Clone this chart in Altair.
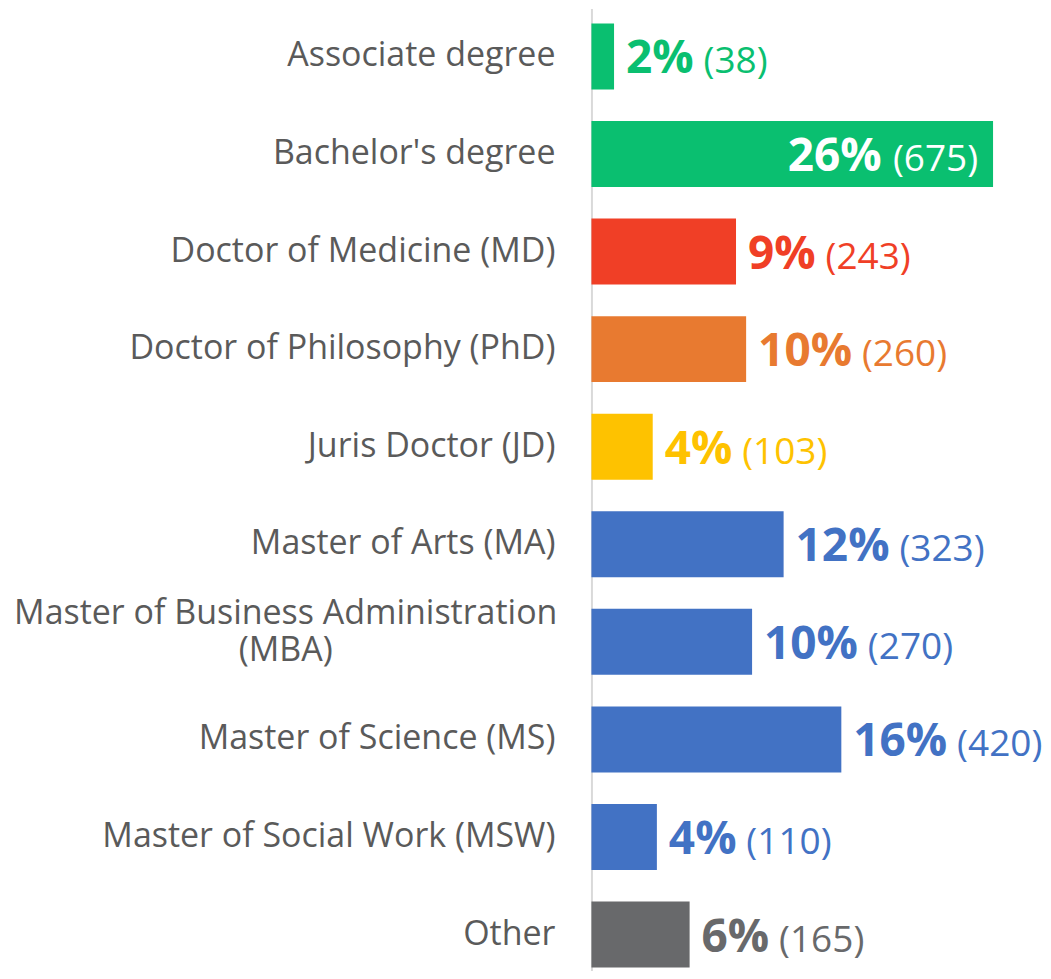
import altair as alt
import pandas as pd

categories = [
    "Associate degree",
    "Bachelor's degree",
    "Doctor of Medicine (MD)",
    "Doctor of Philosophy (PhD)",
    "Juris Doctor (JD)",
    "Master of Arts (MA)",
    "Master of Business Administration (MBA)",
    "Master of Science (MS)",
    "Master of Social Work (MSW)",
    "Other",
]
display_labels = [
    "Associate degree",
    "Bachelor's degree",
    "Doctor of Medicine (MD)",
    "Doctor of Philosophy (PhD)",
    "Juris Doctor (JD)",
    "Master of Arts (MA)",
    "Master of Business Administration\n(MBA)",
    "Master of Science (MS)",
    "Master of Social Work (MSW)",
    "Other",
]
counts = [38, 675, 243, 260, 103, 323, 270, 420, 110, 165]
percents = [2, 26, 9, 10, 4, 12, 10, 16, 4, 6]
colors = ["#0ABF70", "#0ABF70", "#F03F26", "#E87A30", "#FEC200",
          "#4272C4", "#4272C4", "#4272C4", "#4272C4", "#68696B"]

df = pd.DataFrame({
    "category": categories,
    "label": display_labels,
    "count": counts,
    "pct": percents,
})
df["pct_text"] = [f"{p}%" for p in percents]
df["count_text"] = [f"({c})" for c in counts]
df["inside"] = df["count"] == df["count"].max()
df["multiline"] = df["label"].str.contains("\n")

FONT = "Open Sans"
PCT_FS = 46
CNT_FS = 37
LAB_FS = 34

y = alt.Y("category:N", sort=categories,
          scale=alt.Scale(paddingInner=0.324, paddingOuter=0.0921, align=0.833),
          axis=alt.Axis(labels=False, ticks=False, title=None, grid=False,
                        domainColor="#D9D9D9", domainWidth=2))
x = alt.X("count:Q", scale=alt.Scale(domain=[0, 675], nice=False, zero=True), axis=None)
color = alt.Color("category:N", scale=alt.Scale(domain=categories, range=colors), legend=None)

base = alt.Chart(df).encode(y=y)

bars = base.mark_bar().encode(x=x, color=color)

pct_w = f"((length(datum.pct_text)-1)*{0.572*PCT_FS} + {0.897*PCT_FS})"
cnt_w = f"((length(datum.count_text)-2)*{0.572*CNT_FS} + {2*0.296*CNT_FS})"

pct_out = base.transform_filter("!datum.inside").mark_text(
    align="left", baseline="alphabetic", dy=17, dx=12,
    font=FONT, fontSize=PCT_FS, fontWeight="bold"
).encode(x=x, text="pct_text:N", color=color)

cnt_out = base.transform_filter("!datum.inside").mark_text(
    align="left", baseline="alphabetic", dy=17,
    dx=alt.expr(f"22 + {pct_w}"),
    font=FONT, fontSize=CNT_FS
).encode(x=x, text="count_text:N", color=color)

cnt_in = base.transform_filter("datum.inside").mark_text(
    align="right", baseline="alphabetic", dy=17, dx=-15,
    font=FONT, fontSize=CNT_FS, color="white"
).encode(x=x, text="count_text:N")

pct_in = base.transform_filter("datum.inside").mark_text(
    align="right", baseline="alphabetic", dy=17,
    dx=alt.expr(f"-26 - {cnt_w}"),
    font=FONT, fontSize=PCT_FS, fontWeight="bold", color="white"
).encode(x=x, text="pct_text:N")

labels_single = base.transform_filter("!datum.multiline").mark_text(
    align="right", baseline="middle", font=FONT, fontSize=LAB_FS, color="#5A5A5A"
).encode(x=alt.value(-36), text="label:N")

labels_multi = base.transform_filter("datum.multiline").mark_text(
    align="center", baseline="middle", font=FONT, fontSize=LAB_FS, color="#5A5A5A",
    lineBreak="\n", lineHeight=37, dy=-28
).encode(x=alt.value(-306), text="label:N")

chart = alt.layer(bars, pct_out, cnt_out, cnt_in, pct_in, labels_single, labels_multi).properties(
    width=402, height=963,
    padding={"left": 5, "top": 0, "right": 0, "bottom": 0},
).configure_view(stroke=None)

chart.save("out.html", embed_options={"renderer": "svg", "actions": False})
